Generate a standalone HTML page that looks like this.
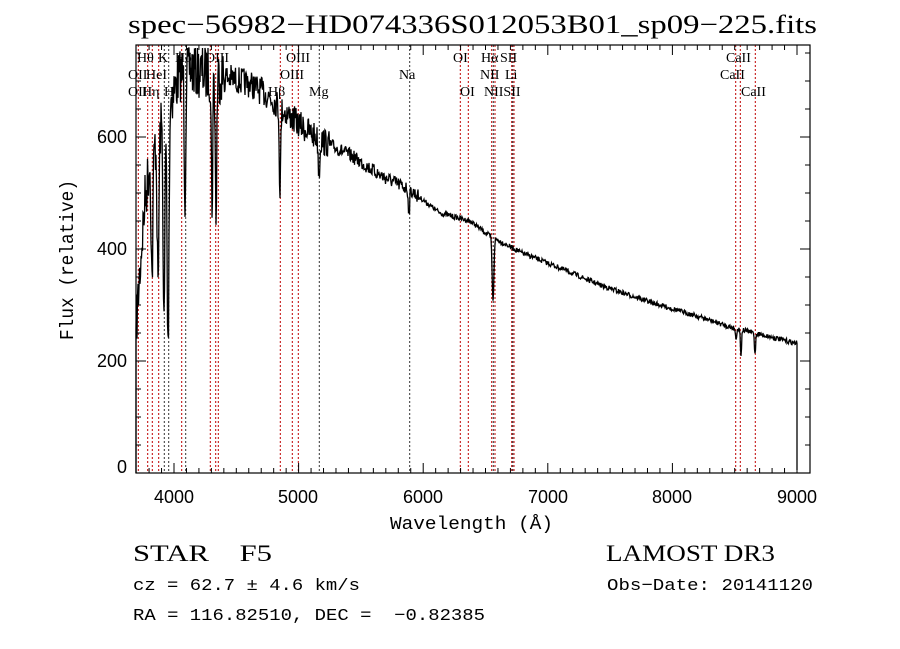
<!DOCTYPE html>
<html><head><meta charset="utf-8"><style>
html,body{margin:0;padding:0;background:#fff;}
svg{display:block;}
text{white-space:pre;}
</style></head><body>
<svg id="s" width="900" height="649" xmlns="http://www.w3.org/2000/svg" xml:space="preserve">
<rect width="900" height="649" fill="#fff"/>
<text x="128" y="33" font-family="Liberation Serif, serif" font-size="26" textLength="689" lengthAdjust="spacingAndGlyphs">spec−56982−HD074336S012053B01_sp09−225.fits</text>
<g id="lines"></g>
<path id="spec" fill="none" stroke="#000" stroke-width="1.3"/>
<rect x="136" y="45" width="674" height="428" fill="none" stroke="#000" stroke-width="1.2"/>
<g id="ticks" stroke="#000" stroke-width="1"></g>
<g font-family="Liberation Sans, sans-serif" font-size="18" text-anchor="middle">
<text x="174" y="503">4000</text><text x="298" y="503">5000</text><text x="423" y="503">6000</text>
<text x="548" y="503">7000</text><text x="672" y="503">8000</text><text x="797" y="503">9000</text>
</g>
<g font-family="Liberation Sans, sans-serif" font-size="18" text-anchor="end">
<text x="127" y="473">0</text><text x="127" y="367">200</text><text x="127" y="255">400</text><text x="127" y="143">600</text>
</g>
<text x="390" y="529" font-family="Liberation Mono, monospace" font-size="18" textLength="163" lengthAdjust="spacingAndGlyphs">Wavelength (Å)</text>
<text transform="translate(73,340) rotate(-90)" font-family="Liberation Mono, monospace" font-size="19" textLength="160" lengthAdjust="spacingAndGlyphs">Flux (relative)</text>
<g font-family="Liberation Serif, serif" font-size="14">
<text x="137" y="62">Hθ</text><text x="158" y="62">K</text><text x="175" y="62">Hδ</text><text x="205" y="62">OIII</text>
<text x="286" y="62">OIII</text><text x="453" y="62">OI</text><text x="481" y="62">Hα</text><text x="500" y="62">SII</text><text x="726" y="62">CaII</text>
<text x="128" y="79">OII</text><text x="146" y="79">HeI</text><text x="280" y="79">OIII</text><text x="399" y="79">Na</text><text x="480" y="79">NII</text><text x="505" y="79">Li</text><text x="720" y="79">CaII</text>
<text x="128" y="96">OII</text><text x="142" y="96">Hη</text><text x="164" y="96">H</text><text x="268" y="96">Hβ</text><text x="309" y="96">Mg</text><text x="460" y="96">OI</text><text x="484" y="96">NIISII</text><text x="741" y="96">CaII</text>
</g>
<text x="133" y="561" font-family="Liberation Serif, serif" font-size="23" textLength="139" lengthAdjust="spacingAndGlyphs">STAR    F5</text>
<text x="606" y="561" font-family="Liberation Serif, serif" font-size="23" textLength="169" lengthAdjust="spacingAndGlyphs">LAMOST DR3</text>
<text x="133" y="590" font-family="Liberation Mono, monospace" font-size="17" textLength="227" lengthAdjust="spacingAndGlyphs">cz = 62.7 ± 4.6 km/s</text>
<text x="607" y="590" font-family="Liberation Mono, monospace" font-size="17" textLength="206" lengthAdjust="spacingAndGlyphs">Obs−Date: 20141120</text>
<text x="133" y="620" font-family="Liberation Mono, monospace" font-size="17" textLength="352" lengthAdjust="spacingAndGlyphs">RA = 116.82510, DEC =  −0.82385</text>
</svg>
<script>
var NS="http://www.w3.org/2000/svg";
function el(p,t,a){var e=document.createElementNS(NS,t);for(var k in a)e.setAttribute(k,a[k]);p.appendChild(e);return e;}
var L=document.getElementById('lines');
var red=[138.3,147.7,152.3,158.7,181.7,210.3,215.7,218.3,280.3,292.3,298.3,460.3,468.3,491.7,495,511.7,514,735.7,740.3,755.3];
var blk=[164.3,168.7,185.7,319.3,409.7,493.3,512.7];
red.forEach(function(x){el(L,'line',{x1:x,x2:x,y1:45,y2:473,stroke:'#c00000','stroke-width':1,'stroke-dasharray':'2,2'});});
blk.forEach(function(x){el(L,'line',{x1:x,x2:x,y1:45,y2:473,stroke:'#333','stroke-width':1,'stroke-dasharray':'2,2'});});
var T=document.getElementById('ticks');
for(var w=3800;w<=9100;w+=100){var x=174+(w-4000)*0.1246;if(x<137||x>809)continue;var big=w%1000==0;var h=big?10:5;
el(T,'line',{x1:x,x2:x,y1:473,y2:473-h});el(T,'line',{x1:x,x2:x,y1:45,y2:45+h});}
for(var f=50;f<=750;f+=50){var y=473-f*0.56;var big=f%200==0;var h=big?10:5;
el(T,'line',{x1:136,x2:136+h,y1:y,y2:y});el(T,'line',{x1:810,x2:810-h,y1:y,y2:y});}
var A=[[136,330],[140,270],[145,200],[150,160],[160,130],[170,100],[180,75],[190,68],[200,72],[230,78],[250,84],[270,97],[285,112],[300,125],[320,140],[350,155],[380,175],[410,190],[440,213],[470,221],[490,236],[520,252],[560,268],[600,285],[650,302],[700,317],[730,327],[755,333],[795,343]];
function cont(x){for(var i=0;i<A.length-1;i++){if(x<=A[i+1][0]){var t=(x-A[i][0])/(A[i+1][0]-A[i][0]);return A[i][1]+t*(A[i+1][1]-A[i][1]);}}return A[A.length-1][1];}
var D=[[152,280,1.2],[158,290,1.2],[164,330,1.2],[168,350,1.3],[185,195,1],[212,205,1],[216,218,1],[280,190,1],[319,175,1],[409,212,1],[493,302,1.2],[736,340,0.8],[741,355,0.8],[755,355,0.8],[142,240,1.5],[138,300,1.5]];
var seed=7;function rnd(){seed=(seed*16807)%2147483647;return seed/2147483647;}
var d='M136,473 L136,330';
for(var x=136.5;x<=797;x+=0.5){var y=cont(x);var amp=x<225?28:(x<330?14:(x<420?7:2.5));y+=(rnd()-0.5)*2*amp;
D.forEach(function(q){var g=Math.exp(-Math.pow((x-q[0])/q[2],2));var c=cont(q[0]);y=y+(q[1]-c)*g;});
if(y<48)y=48;d+=' L'+x.toFixed(1)+','+y.toFixed(1);}
d+=' L797,345 L797,470';
document.getElementById('spec').setAttribute('d',d);
</script>
</body></html>
